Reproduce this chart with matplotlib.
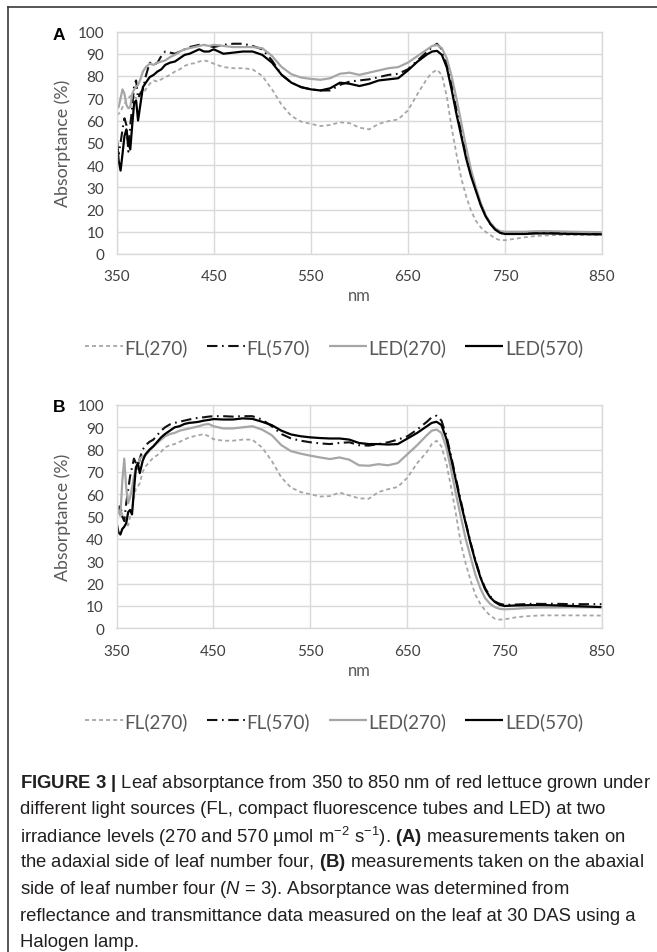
import matplotlib
matplotlib.use("Agg")
import matplotlib.pyplot as plt
from matplotlib.lines import Line2D

plt.rcParams['mathtext.fontset'] = 'custom'
plt.rcParams['mathtext.rm'] = 'Liberation Sans'
plt.rcParams['mathtext.it'] = 'Liberation Sans:italic'
plt.rcParams['mathtext.bf'] = 'Liberation Sans:bold'

# ---------------- data ----------------
nm = [350, 352, 354, 356, 358, 360, 362, 364, 366, 368, 370, 372, 374, 377, 380, 384, 388, 392, 396, 400,
      405, 410, 415, 420, 425, 430, 435, 440, 445, 450,
      460, 470, 480, 490, 500, 510, 520, 530, 540, 550, 560, 570, 580, 590, 600, 610, 620, 630, 640, 650, 660, 670,
      675, 680, 685, 690, 695, 700, 705, 710, 715, 720, 725, 730, 735, 740, 745, 750,
      760, 770, 780, 790, 800, 820, 850]

a_fl270 = [62.5, 63, 64, 66, 67.5, 69, 70, 71, 71.5, 70.5, 70, 70.5, 71, 72, 74, 76.5, 78, 77.5, 78.5, 79.5,
           80.5, 82, 83, 84.5, 85.5, 85.7, 86.5, 87, 86.5, 85.5,
           84, 83.5, 83.5, 83, 80, 74, 67, 62, 59.5, 58.5, 57.5, 58, 59.2, 58.8, 56.8, 56, 58.5, 59.7, 60.5, 64.5, 72, 79,
           81.5, 82.8, 80.5, 71, 57, 45, 34, 26, 19.5, 15, 12, 10, 8.5, 7, 6.2, 6.2,
           6.8, 7.5, 8, 8.3, 8.5, 8.6, 8.6]
a_fl570 = [49, 45, 50, 56, 61, 58, 46, 58, 66, 76, 78, 70, 72, 74, 80, 86, 85, 86, 89, 91,
           90.5, 90, 91, 92, 93, 93.5, 94, 94, 93.5, 93,
           94, 94.5, 94.5, 93.5, 92, 87, 80.5, 77, 75, 74, 73.5, 73.5, 76, 77.5, 78, 78.5, 79.5, 80.5, 81, 83, 87, 91,
           93, 94.5, 92, 86, 76, 65, 54.5, 44.5, 36, 29, 22.5, 17.5, 13.5, 11, 9.5, 9,
           9, 9.2, 9.5, 9.3, 9.5, 9.2, 9.3]
a_led270 = [65.5, 66, 70, 74, 72, 67, 65.5, 66, 72, 74, 75, 76, 78, 82, 84, 85.5, 85, 86, 86.5, 87,
            88.5, 89.5, 91, 92, 92.5, 93, 93.5, 94, 93.5, 94,
            93.5, 93, 93, 93, 92.5, 89, 84, 80.8, 79.3, 78.7, 78.3, 79, 81, 81.5, 80.5, 81.5, 82.5, 83.5, 84, 86, 89, 92,
            93.5, 94, 92.5, 88, 80, 70, 59, 48, 38, 30, 23, 17.5, 14, 11.5, 10.3, 10,
            10, 10, 10.2, 10.3, 10.2, 10, 9.8]
a_led570 = [52.5, 42, 37.5, 45, 53, 56, 50, 47, 58, 68, 69, 60, 66, 75, 77, 79.5, 80.5, 82, 83, 85,
            86, 86.5, 88, 89.5, 90, 91, 92, 91, 91, 92,
            90, 90.5, 91, 91, 89.5, 86, 80.5, 77, 75, 74, 73.5, 74.5, 77, 76.5, 75.5, 76.5, 78, 78.5, 79, 82.5, 86.5, 89.8,
            91, 91.3, 89.5, 84, 74, 63, 53, 43, 35, 28.5, 22, 17, 13.5, 11, 9.5, 9,
            9, 9, 9.2, 9.3, 9.2, 9, 8.8]

b_fl270 = [58, 55, 53.5, 51, 49, 47.5, 46, 50, 53.5, 58.5, 62.5, 63.5, 65, 70, 72.5, 74.5, 76.5, 77.5, 79, 81,
           82, 82.5, 83.5, 84.5, 85.5, 86, 86.5, 87, 86, 84.7,
           84, 84, 84.5, 84.5, 81, 75, 67.5, 63, 61, 60, 59, 59.2, 60.8, 59.5, 58.2, 58, 61, 62.3, 63.3, 67.5, 74, 79,
           82.5, 84, 81.5, 74, 63, 51, 38, 29, 21.5, 15, 11, 8, 5.8, 4.3, 3.9, 4,
           4.8, 5.3, 5.6, 5.8, 5.8, 5.8, 5.7]
b_fl570 = [50.5, 53, 55, 50, 48, 56, 62, 68, 72, 76, 74, 71.5, 76, 80, 82, 83.5, 84.5, 86.5, 88.5, 90,
           91.3, 92, 92.5, 93, 93.5, 94, 94.3, 94.5, 94.8, 95,
           95, 94.8, 95, 95, 93.5, 90.5, 87, 85, 84, 83.3, 82.8, 82.5, 83, 83.3, 82, 81.8, 82.5, 83.3, 84.5, 86, 89, 92.5,
           94.5, 95.2, 93, 86.5, 77, 67, 57, 47.5, 38.5, 30.5, 23.5, 18, 14.5, 12, 11, 10.5,
           10.6, 10.8, 11, 10.9, 11, 10.8, 10.8]
b_led270 = [56, 52, 50.5, 66, 76, 63, 56, 58.5, 63, 68, 71, 73.5, 76, 77, 77.5, 79.5, 81.5, 83, 84.5, 86,
            87, 87.5, 88.5, 89, 89.5, 90, 90.5, 91.2, 91.5, 90.5,
            89.5, 89.5, 90, 90.5, 89, 86.5, 82, 79.3, 78.2, 77.3, 76.5, 75.8, 76.5, 75.5, 73, 72.8, 73.5, 73, 74, 78, 82, 86.5,
            88.5, 89, 87.5, 81, 71, 60, 50, 40, 32, 24, 18, 13.5, 11, 9.5, 8.7, 8.5,
            8.7, 9, 9.2, 9.3, 9.3, 9.4, 9.4]
b_led570 = [47.5, 43, 42, 44.5, 45.5, 47, 52, 53, 51, 62, 72, 74, 69.5, 75, 78, 80, 81.5, 83.5, 85.5, 87,
            88.5, 90, 90.5, 91.5, 92, 92.2, 92.5, 93, 93.3, 93.7,
            93.5, 93.5, 94, 93.8, 92.5, 91, 88.5, 86.8, 86, 85.5, 85.2, 85, 85, 84.5, 83, 82.5, 82.5, 82.3, 82.5, 85, 87.5, 90.5,
            92, 92.5, 91, 85, 76, 66, 56, 47, 38, 30, 23, 17.5, 14, 11.8, 10.5, 10,
            10.2, 10.3, 10.4, 10.4, 10.3, 10, 9.5]

series_names = ["FL(270)", "FL(570)", "LED(270)", "LED(570)"]
x_ticks = [350, 450, 550, 650, 750, 850]
y_ticks = [0, 10, 20, 30, 40, 50, 60, 70, 80, 90, 100]
panel_letters = ["A", "B"]
x_label = "nm"
y_label = "Absorptance (%)"

caption_lines = [
    r"$\mathbf{FIGURE\ 3\ |}$ Leaf absorptance from 350 to 850 nm of red lettuce grown under",
    "different light sources (FL, compact fluorescence tubes and LED) at two",
    r"irradiance levels (270 and 570 µmol m$^{-2}$ s$^{-1}$). $\mathbf{(A)}$ measurements taken on",
    r"the adaxial side of leaf number four, $\mathbf{(B)}$ measurements taken on the abaxial",
    r"side of leaf number four ($\mathit{N}$ = 3). Absorptance was determined from",
    "reflectance and transmittance data measured on the leaf at 30 DAS using a",
    "Halogen lamp.",
]

# ---------------- styles ----------------
W, H = 657, 953
styles = [
    dict(color='#a6a6a6', linestyle=(0, (2.2, 1.7)), lw=1.3),
    dict(color='#111111', linestyle=(0, (5.0, 2.2, 0.8, 2.2)), lw=1.5),
    dict(color='#a6a6a6', linestyle='-', lw=1.6),
    dict(color='#000000', linestyle='-', lw=1.6),
]
grid_c = '#d9d9d9'
tick_c = '#404040'
lab_c = '#595959'
FONT = 'Lato'

fig = plt.figure(figsize=(W / 100, H / 100), dpi=100)


def px_axes(left, top, right, bottom):
    return fig.add_axes([left / W, 1 - bottom / H, (right - left) / W, (bottom - top) / H])


def panel(ax, data, letter, legend_y):
    lines = []
    for vals, st, name in zip(data, styles, series_names):
        ln, = ax.plot(nm, vals, label=name, solid_capstyle='butt', **st)
        lines.append(ln)
    ax.set_xlim(350, 850)
    ax.set_ylim(0, 100)
    ax.set_xticks(x_ticks)
    ax.set_yticks(y_ticks)
    ax.set_xticklabels([str(t) for t in x_ticks], fontfamily=FONT, fontsize=11, color=tick_c)
    ax.set_yticklabels([str(t) for t in y_ticks], fontfamily=FONT, fontsize=11, color=tick_c)
    ax.tick_params(length=0, pad=9)
    ax.tick_params(axis='x', pad=11)
    ax.grid(True, color=grid_c, lw=1.0)
    ax.set_axisbelow(True)
    for s in ax.spines.values():
        s.set_color(grid_c)
        s.set_linewidth(1.0)
    ax.set_xlabel(x_label, fontfamily=FONT, fontsize=12, color=lab_c)
    ax.xaxis.set_label_coords(0.5, -0.185)
    ax.xaxis.label.set_va('center')
    ax.set_ylabel(y_label, fontfamily=FONT, fontsize=12.8, color=lab_c)
    ax.yaxis.set_label_coords(-0.111, 0.5)
    ax.yaxis.label.set_va('center')
    fig.text(53 / W, 1 - ax_top_px[letter] / H, letter, fontfamily='Liberation Sans',
             fontweight='bold', fontsize=12.5, va='center', ha='left', color='black')
    leg = fig.legend(handles=lines, loc='center', bbox_to_anchor=(334 / W, 1 - legend_y / H),
                     bbox_transform=fig.transFigure, ncol=4, frameon=False,
                     handlelength=2.0, handletextpad=0.1, columnspacing=1.0,
                     prop={'family': FONT, 'size': 13.6})
    for t in leg.get_texts():
        t.set_color(lab_c)


ax_top_px = {"A": 35, "B": 408}
axA = px_axes(116.7, 32.5, 602, 255)
panel(axA, [a_fl270, a_fl570, a_led270, a_led570], "A", 348)
axB = px_axes(116.5, 406, 601.5, 629.3)
panel(axB, [b_fl270, b_fl570, b_led270, b_led570], "B", 722)

# caption
cap_y = [783, 810, 836.5, 863, 890, 916.5, 943]
for line, yy in zip(caption_lines, cap_y):
    fig.text(20 / W, 1 - yy / H, line, fontfamily='Liberation Sans', fontsize=13.3,
             color='#231f20', va='center', ha='left')

# figure frame (top and left rules)
fig.add_artist(Line2D([8 / W, 1.0], [1 - 8 / H, 1 - 8 / H], transform=fig.transFigure,
                      color='#3a3a3a', lw=1.2))
fig.add_artist(Line2D([8 / W, 8 / W], [0.0, 1 - 8 / H], transform=fig.transFigure,
                      color='#3a3a3a', lw=1.2))

fig.savefig('out.png', dpi=100)
